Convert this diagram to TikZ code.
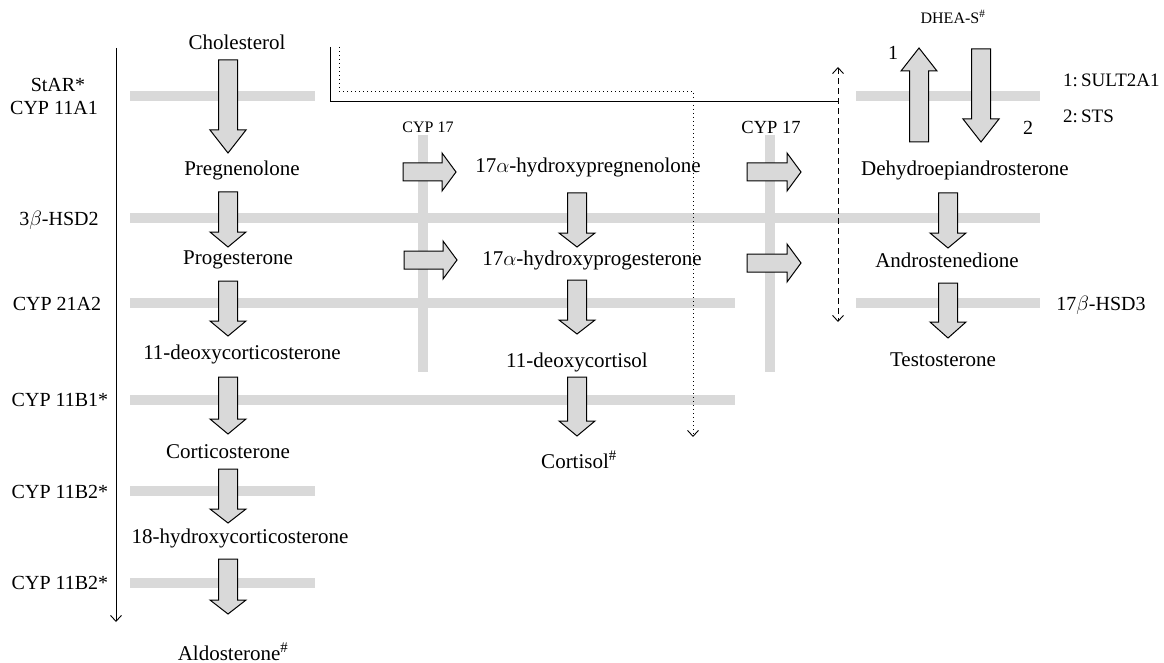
\documentclass[tikz,border=0pt]{standalone}
\usepackage{fontspec}
\setmainfont{Liberation Serif}
\usetikzlibrary{arrows.meta}
\definecolor{bargray}{RGB}{217,217,217}
\definecolor{arrgray}{RGB}{217,217,217}
\tikzset{
  compound/.style={font=\fontsize{21}{24}\selectfont, inner sep=0pt},
  enzyme/.style={font=\fontsize{20}{24}\selectfont, inner sep=0pt},
  smalllbl/.style={font=\fontsize{16}{19}\selectfont, inner sep=0pt},
  bar/.style={draw=bargray, line width=10pt},
  blockarr/.style={fill=arrgray, draw=black, line width=1pt, line join=miter},
  thinline/.style={line width=0.9pt},
  tip/.style={-{Straight Barb[length=6pt,width=11pt]}}
}
% block arrows: position, start, tip, head length
\newcommand{\arrdown}[4]{
  \filldraw[blockarr] (#1-9.5,#2) -- (#1+9.5,#2) -- (#1+9.5,#3-#4) -- (#1+18,#3-#4)
    -- (#1,#3) -- (#1-18,#3-#4) -- (#1-9.5,#3-#4) -- cycle;
}
\newcommand{\arrup}[4]{
  \filldraw[blockarr] (#1-9.5,#2) -- (#1-9.5,#3+#4) -- (#1-18,#3+#4) -- (#1,#3)
    -- (#1+18,#3+#4) -- (#1+9.5,#3+#4) -- (#1+9.5,#2) -- cycle;
}
\newcommand{\arrright}[4]{
  \filldraw[blockarr] (#2,#1-9) -- (#3-#4,#1-9) -- (#3-#4,#1-19) -- (#3,#1)
    -- (#3-#4,#1+19) -- (#3-#4,#1+9) -- (#2,#1+9) -- cycle;
}

\begin{document}
\begin{tikzpicture}[x=1pt,y=-1pt]
  \useasboundingbox (0,0) rectangle (1164,663);
  % enzyme bars
  \draw[bar] (130,96) -- (315,96);
  \draw[bar] (856,96) -- (1040,96);
  \draw[bar] (130,218) -- (1040,218);
  \draw[bar] (130,303) -- (735,303);
  \draw[bar] (856,303) -- (1040,303);
  \draw[bar] (130,400) -- (735,400);
  \draw[bar] (130,491) -- (315,491);
  \draw[bar] (130,583) -- (315,583);
  \draw[bar] (423,135) -- (423,372);
  \draw[bar] (770,135) -- (770,372);

  % enzymes
  \node[enzyme] (star) at (58,85) {StAR*};
  \node[enzyme] (cyp11a1) at (54,108) {CYP 11A1};
  \node[enzyme] (hsd2) at (59,220) {3$\beta$-HSD2};
  \node[enzyme] (cyp21) at (57,304) {CYP 21A2};
  \node[enzyme] (cyp11b1) at (60,400) {CYP 11B1*};
  \node[enzyme] (cyp11b2a) at (60,492) {CYP 11B2*};
  \node[enzyme] (cyp11b2b) at (60,583) {CYP 11B2*};
  \node[smalllbl] (cyp17a) at (428,127) {CYP 17};
  \node[enzyme,font=\fontsize{18.5}{22}\selectfont] (cyp17b) at (771,127) {CYP 17};
  \node[enzyme] (hsd3) at (1101,305) {17$\beta$-HSD3};
  \node[enzyme,font=\fontsize{19}{22}\selectfont,anchor=west] (sult) at (1063,80) {1:\,SULT2A1};
  \node[enzyme,font=\fontsize{19}{22}\selectfont,anchor=west] (sts) at (1063,116) {2:\,STS};

  % steroids
  \node[compound] (chol) at (237,42) {Cholesterol};
  \node[compound] (preg) at (242,170) {Pregnenolone};
  \node[compound] (prog) at (238,260) {Progesterone};
  \node[compound] (doc) at (242,354) {11-deoxycorticosterone};
  \node[compound] (cort) at (228,452) {Corticosterone};
  \node[compound] (ohcort) at (240,538) {18-hydroxycorticosterone};
  \node[compound] (aldo) at (233,652) {Aldosterone\textsuperscript{\#}};
  \node[compound] (ohpreg) at (588,167) {17$\alpha$-hydroxypregnenolone};
  \node[compound] (ohprog) at (592,260) {17$\alpha$-hydroxyprogesterone};
  \node[compound] (deoxyf) at (577,362) {11-deoxycortisol};
  \node[compound] (cortisol) at (579,460) {Cortisol\textsuperscript{\#}};
  \node[compound] (dhea) at (965,170) {Dehydroepiandrosterone};
  \node[compound] (andro) at (947,260) {Androstenedione};
  \node[compound] (testo) at (943,360) {Testosterone};
  \node[smalllbl] (dheas) at (953,17) {DHEA-S\textsuperscript{\#}};
  \node[enzyme] (one) at (893,53) {1};
  \node[enzyme] (two) at (1028,128) {2};

  % block arrows
  \arrdown{228}{60}{153}{23}
  \arrdown{228}{192}{247}{15}
  \arrdown{228}{281}{336}{15}
  \arrdown{228}{377}{434}{15}
  \arrdown{228}{469}{523}{14}
  \arrdown{228}{559}{614}{14}
  \arrdown{577}{193}{247}{14}
  \arrdown{577}{280}{334}{14}
  \arrdown{577}{377}{436}{15}
  \arrdown{948}{193}{248}{15}
  \arrdown{948}{283}{338}{16}
  \arrup{919}{142}{48}{23}
  \arrdown{981}{49}{142}{23}
  \arrright{172}{403}{456}{14}
  \arrright{260}{404}{457}{14}
  \arrright{172}{747}{801}{14}
  \arrright{263}{747}{801}{14}

  % connectors
  \coordinate (axtop) at (116,48);
  \coordinate (axbot) at (116,622);
  \draw[thinline,tip] (axtop) -- (axbot);
  \coordinate (solidstart) at (330,47);
  \coordinate (dashtop) at (838,67);
  \coordinate (dashbot) at (838,322);
  \draw[thinline] (solidstart) |- (dashtop |- 0,101);
  \draw[thinline,dash pattern=on 6pt off 4pt,
    {Straight Barb[length=6pt,width=11pt]}-{Straight Barb[length=6pt,width=11pt]}]
    (dashtop) -- (dashbot);
  \coordinate (dotstart) at (339,47);
  \coordinate (dotend) at (693,437);
  \draw[thinline,dash pattern=on 1pt off 3pt,tip]
    (dotstart) -- (339,91) -| (dotend);
\end{tikzpicture}
\end{document}
